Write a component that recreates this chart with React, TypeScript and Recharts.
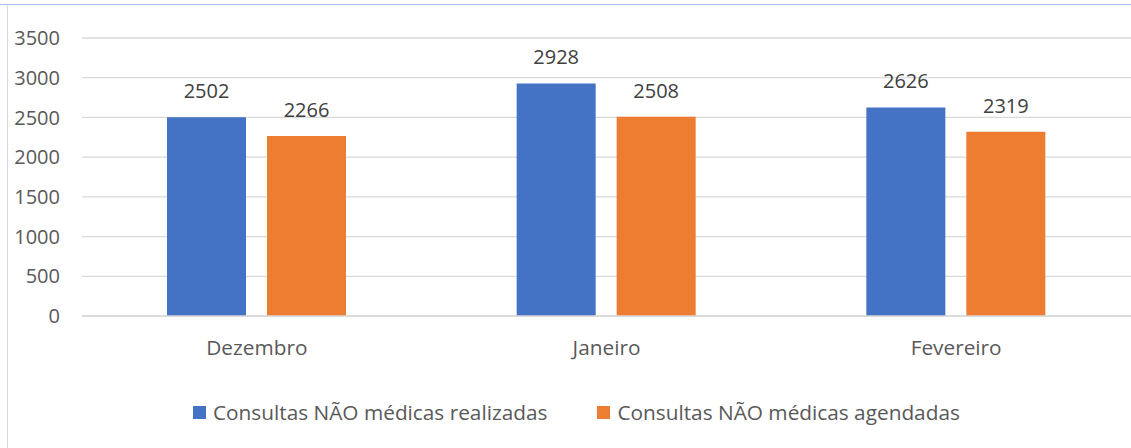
import { BarChart, Bar, XAxis, YAxis, CartesianGrid, Legend, LabelList } from 'recharts';

const months = ['Dezembro', 'Janeiro', 'Fevereiro'];
const realizadas = [2502, 2928, 2626];
const agendadas = [2266, 2508, 2319];
const yTicks = [0, 500, 1000, 1500, 2000, 2500, 3000, 3500];

const seriesNames = ['Consultas NÃO médicas realizadas', 'Consultas NÃO médicas agendadas'];
const colors = ['#4472C4', '#ED7D31'];

const FONT = '"Open Sans", sans-serif';

const chartData = months.map((m, i) => ({
    month: m,
    realizadas: realizadas[i],
    agendadas: agendadas[i],
}));

function LegendContent() {
    return (
        <div style={{ display: 'flex', alignItems: 'center', fontFamily: FONT, fontSize: 20.8, color: '#595959' }}>
            {seriesNames.map((name, i) => (
                <div key={name} style={{ display: 'flex', alignItems: 'center', marginRight: 50 }}>
                    <span style={{ display: 'inline-block', width: 13, height: 13, background: colors[i], marginRight: 7 }} />
                    <span style={{ whiteSpace: 'nowrap' }}>{name}</span>
                </div>
            ))}
        </div>
    );
}

export default function App() {
    return (
        <div style={{ position: 'fixed', left: 0, top: 0, width: 1131, height: 448, background: '#fff', overflow: 'hidden' }}>
            {/* chart frame, cropped */}
            <div style={{ position: 'absolute', left: 0, top: 4, width: 1131, height: 0, borderTop: '1.5px solid #a9c1e6' }} />
            <div style={{ position: 'absolute', left: 7, top: 5, width: 0, height: 443, borderLeft: '1.5px solid #d9d9d9' }} />
            <BarChart
                width={1131}
                height={448}
                data={chartData}
                margin={{ top: 38, right: 0, left: 0, bottom: 102 }}
                barSize={79}
                barGap={21}
            >
                <CartesianGrid vertical={false} stroke="#d9d9d9" strokeWidth={1.3} />
                <XAxis
                    dataKey="month"
                    height={30}
                    tickLine={false}
                    tickSize={0}
                    tickMargin={24}
                    axisLine={{ stroke: '#d9d9d9', strokeWidth: 1.3 }}
                    tick={{ fontFamily: FONT, fontSize: 20.8, fill: '#595959' }}
                />
                <YAxis
                    width={82}
                    domain={[0, 3500]}
                    ticks={yTicks}
                    interval={0}
                    axisLine={false}
                    tickLine={false}
                    tickSize={0}
                    tickMargin={22}
                    tick={{ fontFamily: FONT, fontSize: 20, fill: '#595959' }}
                />
                <Legend
                    layout="horizontal"
                    verticalAlign="middle"
                    align="center"
                    content={<LegendContent />}
                    wrapperStyle={{ position: 'absolute', top: 398, left: 193, width: 900 }}
                />
                <Bar dataKey="realizadas" name={seriesNames[0]} fill={colors[0]} isAnimationActive={false}>
                    <LabelList dataKey="realizadas" position="top" offset={19} style={{ fontFamily: FONT, fontSize: 20, fill: '#404040' }} />
                </Bar>
                <Bar dataKey="agendadas" name={seriesNames[1]} fill={colors[1]} isAnimationActive={false}>
                    <LabelList dataKey="agendadas" position="top" offset={19} style={{ fontFamily: FONT, fontSize: 20, fill: '#404040' }} />
                </Bar>
            </BarChart>
        </div>
    );
}
